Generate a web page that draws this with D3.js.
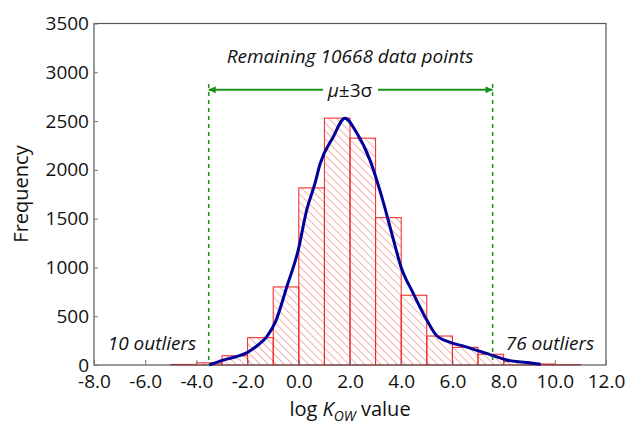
<!DOCTYPE html>
<meta charset="utf-8">
<head>
<script src="https://d3js.org/d3.v7.min.js"></script>
<style>
  body { margin: 0; background: #fff; }
  text { font-family: "Open Sans", "Noto Sans", sans-serif; fill: #111; }
  .tick text { font-size: 19px; }
</style>
</head>
<body>
<svg id="chart" width="627" height="430"></svg>
<script>
// histogram bins (left edge, width 1) and counts
var binStarts = [-5, -4, -3, -2, -1, 0, 1, 2, 3, 4, 5, 6, 7, 8, 9, 10];
var binCounts = [6, 22, 95, 280, 800, 1815, 2530, 2325, 1510, 715, 297, 181, 110, 34, 10, 4];

// density curve
var curveX = [-3.5, -2.95, -2.45, -2.04, -1.64, -1.25, -0.9, -0.47, -0.02, 0.31, 0.63, 0.83, 1.35, 1.8, 2.26, 2.78, 3.24, 3.63, 4.0, 4.47, 5.0, 5.39, 5.95, 6.5, 6.95, 7.3, 7.6, 8.12, 8.9, 9.45];
var curveY = [0, 50, 85, 125, 195, 290, 450, 800, 1180, 1590, 1860, 2060, 2340, 2530, 2380, 2100, 1725, 1350, 1000, 735, 461, 300, 230, 188, 150, 122, 95, 51, 25, 8];

// mu +/- 3 sigma bounds
var sigmaBounds = [-3.52, 7.57];

var xTicks = [-8, -6, -4, -2, 0, 2, 4, 6, 8, 10, 12];
var yTicks = [0, 500, 1000, 1500, 2000, 2500, 3000, 3500];

var svg = d3.select("#chart");
var plotLeft = 94, plotRight = 606, plotTop = 23.5, plotBottom = 365;

var x = d3.scaleLinear().domain([-8, 12]).range([plotLeft, plotRight]);
var y = d3.scaleLinear().domain([0, 3500]).range([plotBottom, plotTop]);

// hatch pattern
var defs = svg.append("defs");
defs.append("pattern")
  .attr("id", "hatch")
  .attr("patternUnits", "userSpaceOnUse")
  .attr("width", 5.7).attr("height", 5.7)
  .attr("patternTransform", "rotate(-45)")
  .append("line")
  .attr("x1", 0).attr("y1", 0).attr("x2", 0).attr("y2", 5.7)
  .attr("stroke", "#f26a6a").attr("stroke-width", 1.1);

// bars
svg.append("g").selectAll("rect")
  .data(binStarts)
  .enter().append("rect")
  .attr("x", function (d) { return x(d); })
  .attr("width", function (d) { return x(d + 1) - x(d); })
  .attr("y", function (d, i) { return y(binCounts[i]); })
  .attr("height", function (d, i) { return plotBottom - y(binCounts[i]); })
  .attr("fill", "url(#hatch)")
  .attr("stroke", "#ee2222")
  .attr("stroke-width", 1);

// frame
svg.append("rect")
  .attr("x", plotLeft).attr("y", plotTop)
  .attr("width", plotRight - plotLeft).attr("height", plotBottom - plotTop)
  .attr("fill", "none").attr("stroke", "#555").attr("stroke-width", 1.2);

// axes
var xAxis = svg.append("g")
  .attr("transform", "translate(0," + plotBottom + ")")
  .call(d3.axisBottom(x).tickValues(xTicks).tickSize(-5).tickPadding(9)
    .tickFormat(function (d) { return d.toFixed(1); }));
xAxis.select(".domain").remove();
xAxis.selectAll(".tick line").attr("stroke", "#777");
xAxis.selectAll(".tick text").attr("dy", "0.72em").attr("fill", "#111");

var yAxis = svg.append("g")
  .attr("transform", "translate(" + plotLeft + ",0)")
  .call(d3.axisLeft(y).tickValues(yTicks).tickSize(-4).tickPadding(5)
    .tickFormat(d3.format("d")));
yAxis.select(".domain").remove();
yAxis.selectAll(".tick line").attr("stroke", "#777");
yAxis.selectAll(".tick text").attr("fill", "#111");

// density curve
var pts = curveX.map(function (d, i) { return [d, curveY[i]]; });
svg.append("path")
  .datum(pts)
  .attr("d", d3.line()
    .x(function (d) { return x(d[0]); })
    .y(function (d) { return y(d[1]); })
    .curve(d3.curveMonotoneX))
  .attr("fill", "none")
  .attr("stroke", "#00009a")
  .attr("stroke-width", 3);

// mu +/- 3 sigma markers
var green = "#169116";
svg.selectAll(".sigma")
  .data(sigmaBounds)
  .enter().append("line")
  .attr("x1", function (d) { return x(d); }).attr("x2", function (d) { return x(d); })
  .attr("y1", y(2880)).attr("y2", plotBottom)
  .attr("stroke", green).attr("stroke-width", 1.5)
  .attr("stroke-dasharray", "4,4");

defs.append("marker")
  .attr("id", "arrow")
  .attr("viewBox", "0 0 10 10")
  .attr("refX", 10).attr("refY", 5)
  .attr("markerWidth", 10).attr("markerHeight", 7)
  .attr("markerUnits", "userSpaceOnUse")
  .attr("orient", "auto")
  .append("path").attr("d", "M0,0L10,5L0,10z").attr("fill", green);

var arrowY = y(2820);
svg.append("line")
  .attr("x1", 323).attr("x2", x(sigmaBounds[0]))
  .attr("y1", arrowY).attr("y2", arrowY)
  .attr("stroke", green).attr("stroke-width", 2)
  .attr("marker-end", "url(#arrow)");
svg.append("line")
  .attr("x1", 378).attr("x2", x(sigmaBounds[1]))
  .attr("y1", arrowY).attr("y2", arrowY)
  .attr("stroke", green).attr("stroke-width", 2)
  .attr("marker-end", "url(#arrow)");

var mu = svg.append("text")
  .attr("x", 350).attr("y", arrowY + 7)
  .attr("text-anchor", "middle")
  .style("font-size", "19px");
mu.append("tspan").style("font-style", "italic").text("μ");
mu.append("tspan").text("±3σ");

// annotations
svg.append("text")
  .attr("x", 350).attr("y", 63)
  .attr("text-anchor", "middle")
  .style("font-size", "19px").style("font-style", "italic")
  .text("Remaining 10668 data points");

svg.append("text")
  .attr("x", 152).attr("y", 350)
  .attr("text-anchor", "middle")
  .style("font-size", "19px").style("font-style", "italic")
  .text("10 outliers");

svg.append("text")
  .attr("x", 550).attr("y", 350)
  .attr("text-anchor", "middle")
  .style("font-size", "19px").style("font-style", "italic")
  .text("76 outliers");

// axis titles
svg.append("text")
  .attr("transform", "translate(28,194) rotate(-90)")
  .attr("text-anchor", "middle")
  .style("font-size", "20px")
  .text("Frequency");

var xt = svg.append("text")
  .attr("x", 350).attr("y", 416)
  .attr("text-anchor", "middle")
  .style("font-size", "20px");
xt.append("tspan").text("log ");
xt.append("tspan").style("font-style", "italic").text("K");
xt.append("tspan").style("font-style", "italic").style("font-size", "14px").attr("dy", 5).text("OW");
xt.append("tspan").attr("dy", -5).text(" value");
</script>
</body>
